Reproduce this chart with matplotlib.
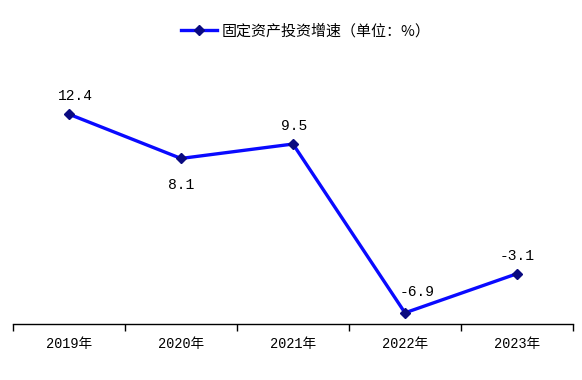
import matplotlib
matplotlib.use("Agg")
import matplotlib.pyplot as plt
from matplotlib.ticker import FixedLocator

years = ["2019年", "2020年", "2021年", "2022年", "2023年"]
values = [12.4, 8.1, 9.5, -6.9, -3.1]
series_name = "固定资产投资增速（单位：%）"

fonts = ["Liberation Mono", "Noto Sans CJK SC", "DejaVu Sans"]
plt.rcParams["font.family"] = fonts

fig = plt.figure(figsize=(5.82, 3.8), dpi=100)
ax = fig.add_axes([0.0223, 0.147, 0.9622, 0.65])
x = list(range(len(years)))
ax.plot(x, values, color="#0A0AFF", lw=2.4, marker="D", markersize=5,
        markerfacecolor="#0A0A80", markeredgecolor="#0A0A80", label=series_name,
        solid_joinstyle="miter")

ax.set_xlim(-0.5, len(years) - 0.5)
ax.set_ylim(-8, 16)
for s in ["top", "right", "left"]:
    ax.spines[s].set_visible(False)
ax.spines["bottom"].set_color("black")
ax.spines["bottom"].set_linewidth(1)
ax.set_yticks([])
ax.set_xticks(x)
ax.set_xticklabels(years, fontsize=9.8)
ax.tick_params(axis="x", which="major", length=0, pad=9)
ax.xaxis.set_minor_locator(FixedLocator([i - 0.5 for i in range(len(years) + 1)]))
ax.tick_params(axis="x", which="minor", length=5, width=1, direction="out")

offsets = [(5, 13), (0, -19), (1, 13), (9, 15), (0, 12.5)]
for xi, v, (dx, dy) in zip(x, values, offsets):
    ax.annotate(f"{v}", (xi, v), xytext=(dx, dy), textcoords="offset points",
                ha="center", va="center", fontsize=10.5)

leg = ax.legend(loc="upper center", bbox_to_anchor=(0.525, 1.0), bbox_transform=fig.transFigure,
                frameon=False, handlelength=2.4, handletextpad=0.3,
                borderaxespad=1.2, prop={"family": ["Noto Sans CJK SC"], "size": 10.8})
fig.savefig("out.png", dpi=100)
